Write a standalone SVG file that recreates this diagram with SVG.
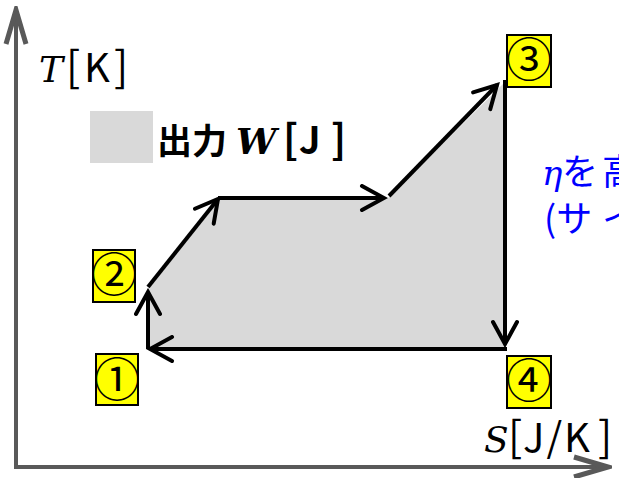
<svg xmlns="http://www.w3.org/2000/svg" width="619" height="478" viewBox="0 0 619 478">
  <defs>
    <style>
      .axis { stroke: #595959; stroke-width: 4; fill: none; }
      .edge { stroke: #000; stroke-width: 4; fill: none; stroke-linecap: butt; }
      .area { fill: #d9d9d9; stroke: none; }
      .tag rect { fill: #ffff00; stroke: #000; stroke-width: 2; }
      .tag text { font-family: "Noto Sans CJK JP", "DejaVu Sans", sans-serif; font-size: 46px; fill: #000; text-anchor: middle; }
      .math { font-family: "DejaVu Serif", "Liberation Serif", serif; font-style: italic; }
      .sans { font-family: "Noto Sans CJK JP", "Liberation Sans", sans-serif; font-style: normal; }
      .note { font-family: "Noto Sans CJK JP", "Liberation Sans", sans-serif; font-size: 36px; fill: #0000ff; }
    </style>
    <marker id="head" viewBox="-26 -14 30 28" refX="0" refY="0" markerWidth="30" markerHeight="28" markerUnits="userSpaceOnUse" orient="auto">
      <path d="M -22 -12 L 0 0 L -22 12" stroke="#000" stroke-width="4" fill="none" stroke-linecap="round" stroke-linejoin="miter"/>
    </marker>
    <marker id="axisHead" viewBox="-40 -14 44 28" refX="0" refY="0" markerWidth="44" markerHeight="28" markerUnits="userSpaceOnUse" orient="auto">
      <path d="M -34 -10 L 0 0 L -34 10" stroke="#595959" stroke-width="5" fill="none" stroke-linejoin="miter"/>
    </marker>
  </defs>

  <rect width="619" height="478" fill="#fff"/>

  <!-- axes -->
  <g id="axes">
    <path class="axis" d="M 16 469 L 16 10" marker-end="url(#axisHead)"/>
    <path class="axis" d="M 14 467 L 608 467" marker-end="url(#axisHead)"/>
  </g>

  <!-- enclosed area of the cycle -->
  <polygon id="work-area" class="area" points="148,349 148,290 220,198 388,198 505,82 505,349"/>

  <!-- cycle connectors -->
  <g id="connectors">
    <path class="edge" d="M 148 349 L 148 292" marker-end="url(#head)"/>
    <path class="edge" d="M 148 287 L 218 199" marker-end="url(#head)"/>
    <path class="edge" d="M 218 198 L 384 198" marker-end="url(#head)"/>
    <path class="edge" d="M 389 196 L 497 85" marker-end="url(#head)"/>
    <path class="edge" d="M 505 80 L 505 344" marker-end="url(#head)"/>
    <path class="edge" d="M 507 349 L 150 349" marker-end="url(#head)"/>
  </g>

  <!-- state labels -->
  <g id="state1" class="tag">
    <rect x="96" y="354" width="42" height="51"/>
    <text x="117" y="396">①</text>
  </g>
  <g id="state2" class="tag">
    <rect x="93" y="250" width="42" height="52"/>
    <text x="114" y="291">②</text>
  </g>
  <g id="state3" class="tag">
    <rect x="507" y="35" width="44" height="52"/>
    <text x="529" y="76">③</text>
  </g>
  <g id="state4" class="tag">
    <rect x="507" y="356" width="44" height="52"/>
    <text x="529" y="397">④</text>
  </g>

  <!-- axis labels -->
  <g id="label-T">
    <text y="82"><tspan class="math" x="39" font-size="36">T</tspan><tspan class="sans" x="66" font-size="42">[</tspan><tspan class="sans" x="84" font-size="40">K</tspan><tspan class="sans" x="114" font-size="42">]</tspan></text>
  </g>
  <g id="label-S">
    <text y="452"><tspan class="math" x="484" font-size="36">S</tspan><tspan class="sans" x="508" font-size="42">[</tspan><tspan class="sans" x="523" font-size="40" letter-spacing="2">J/K</tspan><tspan class="sans" x="598" font-size="42">]</tspan></text>
  </g>

  <!-- legend -->
  <g id="legend">
    <rect x="90" y="111" width="63" height="52" fill="#d9d9d9"/>
    <text y="154" font-weight="bold"><tspan class="sans" x="157" font-size="35">出力</tspan><tspan class="math" x="236" font-size="36" font-weight="bold">W</tspan><tspan class="sans" x="283" font-size="40">[</tspan><tspan class="sans" x="299" font-size="38">J</tspan><tspan class="sans" x="331" font-size="40">]</tspan></text>
  </g>

  <!-- note on the right edge -->
  <g id="note">
    <text class="note" y="185"><tspan class="math" x="542" font-size="34">η</tspan><tspan x="562">を</tspan><tspan x="602">高</tspan></text>
    <text class="note" x="544" y="232">(サ<tspan x="602">イ</tspan></text>
  </g>
</svg>
